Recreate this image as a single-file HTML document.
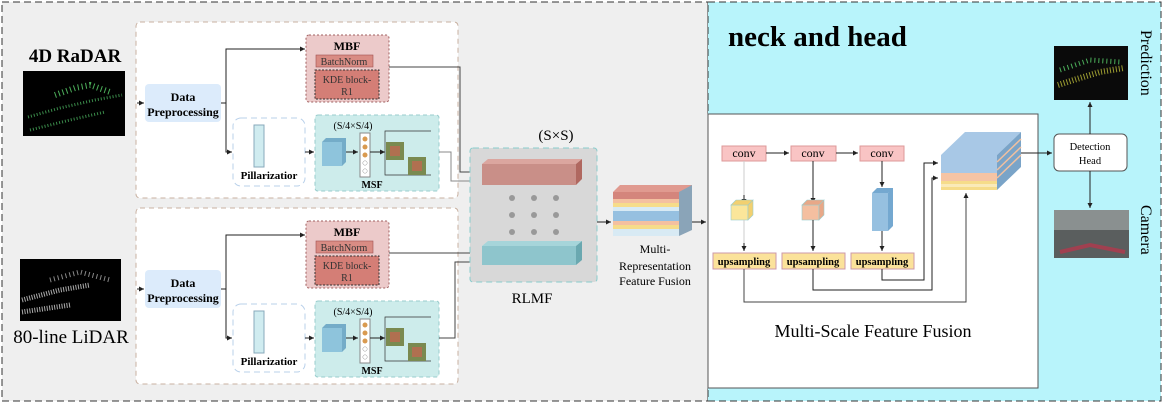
<!DOCTYPE html>
<html><head><meta charset="utf-8"><style>
body{margin:0;background:#fff}
svg{display:block;font-family:"Liberation Serif",serif}
</style></head><body>
<svg width="1164" height="404" viewBox="0 0 1164 404" xmlns="http://www.w3.org/2000/svg">
<defs>
<marker id="a" markerWidth="6" markerHeight="6" refX="5" refY="3" orient="auto"><path d="M0,0.5 L5,3 L0,5.5z" fill="#222"/></marker>
<g id="branch">
  <rect x="136" y="0" width="322" height="176" rx="4" fill="#fff" stroke="#c8b0a0" stroke-dasharray="5,4"/>
  <rect x="145" y="62" width="76" height="38" rx="4" fill="#dcebfb"/>
  <text x="183" y="79" font-size="12" font-weight="bold" text-anchor="middle">Data</text>
  <text x="183" y="94" font-size="12" font-weight="bold" text-anchor="middle">Preprocessing</text>
  <path d="M137,81 L144,81" stroke="#222" marker-end="url(#a)"/>
  <rect x="306" y="13" width="83" height="67" rx="3" fill="#eccaca" stroke="#a06060" stroke-dasharray="2,2"/>
  <text x="347" y="28" font-size="12" font-weight="bold" text-anchor="middle">MBF</text>
  <rect x="316" y="33" width="57" height="12" fill="#d98c84" stroke="#a05050" stroke-width="0.6"/>
  <text x="344" y="43" font-size="10" text-anchor="middle" fill="#333">BatchNorm</text>
  <rect x="315" y="48" width="64" height="29" fill="#d47e76" stroke="#333" stroke-dasharray="2,1.5"/>
  <text x="347" y="61" font-size="10" text-anchor="middle" fill="#333">KDE block-</text>
  <text x="347" y="73" font-size="10" text-anchor="middle" fill="#333">R1</text>
  <path d="M221,81 L226,81 L226,27 L305,27" fill="none" stroke="#222" marker-end="url(#a)"/>
  <path d="M226,81 L226,130 L232,130" fill="none" stroke="#222" marker-end="url(#a)"/>
  <rect x="233" y="96" width="72" height="68" rx="8" fill="#fff" stroke="#b8d0ea" stroke-dasharray="6,4"/>
  <rect x="254" y="103" width="10" height="42" fill="#d0ecf0" stroke="#8ab"/>
  <text x="269" y="157" font-size="11" font-weight="bold" text-anchor="middle">Pillarizatior</text>
  <path d="M305,130 L314,130" stroke="#222" marker-end="url(#a)"/>
  <rect x="315" y="93" width="124" height="76" rx="3" fill="#cdeceb" stroke="#9cc" stroke-dasharray="4,3"/>
  <text x="353" y="107" font-size="10" text-anchor="middle">(S/4×S/4)</text>
  <rect x="322" y="120" width="20" height="24" fill="#8ec4dc"/>
  <path d="M322,120 L326,116 L346,116 L342,120z M342,120 L346,116 L346,140 L342,144z" fill="#74acc8"/>
  <path d="M346,130 L358,130" stroke="#222" marker-end="url(#a)"/>
  <rect x="360" y="111" width="10" height="44" fill="#fff" stroke="#888"/>
  <circle cx="365" cy="117" r="2.5" fill="#d99a50"/><circle cx="365" cy="125" r="2.5" fill="#d99a50"/><circle cx="365" cy="133" r="2.5" fill="#d99a50"/>
  <circle cx="365" cy="141" r="2.2" fill="#fff" stroke="#999" stroke-width="0.5"/><circle cx="365" cy="149" r="2.2" fill="#fff" stroke="#999" stroke-width="0.5"/>
  <path d="M370,130 L385,130" stroke="#222" marker-end="url(#a)"/>
  <path d="M431,109 L385,109 L385,153 L431,153" fill="none" stroke="#333" stroke-width="0.7"/>
  <rect x="386" y="120" width="18" height="18" fill="#7a8a50"/><rect x="390" y="124" width="10" height="10" fill="#b07050"/>
  <rect x="408" y="135" width="18" height="18" fill="#7a8a50"/><rect x="412" y="139" width="10" height="10" fill="#b07050"/>
  <text x="372" y="166" font-size="10" font-weight="bold" text-anchor="middle">MSF</text>
</g>
</defs>
<rect x="0" y="0" width="1164" height="404" fill="#fff"/>
<rect x="2" y="2" width="706" height="399" fill="#efefef" stroke="#333" stroke-dasharray="7,4"/>
<rect x="708" y="2" width="453" height="399" fill="#b8f4fb" stroke="#333" stroke-dasharray="7,4"/>
<text x="728" y="46" font-size="29" font-weight="bold">neck and head</text>

<text x="75" y="62" font-size="19" font-weight="bold" text-anchor="middle">4D RaDAR</text>
<rect x="23" y="71" width="102" height="65" fill="#000"/>
<path d="M28,117 L60,108 L95,100 L122,95 M30,130 L70,120 L105,112" stroke="#3a8a4a" stroke-width="3" stroke-dasharray="1,2" fill="none"/>
<path d="M55,95 L75,88 L90,85 L110,92" stroke="#4caf5a" stroke-width="6" stroke-dasharray="1,3" fill="none"/>
<rect x="20" y="259" width="101" height="62" fill="#000"/>
<path d="M22,300 L60,290 L90,285 M22,312 L70,305" stroke="#aaa" stroke-width="5" stroke-dasharray="1,1.5" fill="none"/>
<path d="M50,280 L80,272 L110,280" stroke="#888" stroke-width="5" stroke-dasharray="1,3" fill="none"/>
<text x="71" y="343" font-size="19" text-anchor="middle">80-line LiDAR</text>

<use href="#branch" y="22"/>
<use href="#branch" y="208"/>

<path d="M389,67 L460,67 L460,172 L480,172" fill="none" stroke="#444" marker-end="url(#a)"/>
<path d="M439,152 L451,152 L451,181 L480,181" fill="none" stroke="#888" marker-end="url(#a)"/>
<path d="M389,253 L455,253 L480,253" fill="none" stroke="#444" marker-end="url(#a)"/>
<path d="M439,338 L455,338 L455,262 L480,262" fill="none" stroke="#444" marker-end="url(#a)"/>

<rect x="470" y="148" width="127" height="134" rx="3" fill="#d8d8d8" stroke="#8cc" stroke-dasharray="6,4"/>
<text x="556" y="140" font-size="15" text-anchor="middle">(S×S)</text>
<rect x="482" y="164" width="94" height="21" fill="#c98f88"/>
<path d="M482,164 L488,159 L582,159 L576,164z" fill="#dba69f"/><path d="M576,164 L582,159 L582,179 L576,185z" fill="#b06860"/>
<rect x="482" y="246" width="94" height="19" fill="#8ec5cc"/>
<path d="M482,246 L488,241 L582,241 L576,246z" fill="#a6d5da"/><path d="M576,246 L582,241 L582,260 L576,265z" fill="#6aa8b0"/>
<g fill="#999"><circle cx="512" cy="198" r="3"/><circle cx="534" cy="198" r="3"/><circle cx="556" cy="198" r="3"/><circle cx="512" cy="215" r="3"/><circle cx="534" cy="215" r="3"/><circle cx="556" cy="215" r="3"/><circle cx="512" cy="232" r="3"/><circle cx="534" cy="232" r="3"/><circle cx="556" cy="232" r="3"/></g>
<text x="532" y="303" font-size="15" text-anchor="middle">RLMF</text>
<path d="M597,222 L611,222" stroke="#222" marker-end="url(#a)"/>

<g>
<path d="M613,192 L620,185 L692,185 L685,192z" fill="#e09a90"/>
<rect x="613" y="192" width="66" height="7" fill="#d4857c"/><rect x="613" y="199" width="66" height="4" fill="#f4c0a0"/>
<rect x="613" y="203" width="66" height="4" fill="#f6dc8a"/><rect x="613" y="207" width="66" height="4" fill="#d8eaf4"/>
<rect x="613" y="211" width="66" height="10" fill="#96c0e0"/><rect x="613" y="221" width="66" height="4" fill="#f4c0a0"/>
<rect x="613" y="225" width="66" height="4" fill="#f6dc8a"/><rect x="613" y="229" width="66" height="7" fill="#d8eaf4"/>
<path d="M679,192 L692,185 L692,230 L679,236z" fill="#8aa4b8"/>
</g>
<text x="655" y="253" font-size="12" text-anchor="middle">Multi-</text>
<text x="655" y="270" font-size="12" text-anchor="middle">Representation</text>
<text x="655" y="285" font-size="12" text-anchor="middle">Feature Fusion</text>
<path d="M692,222 L706,222" stroke="#222" marker-end="url(#a)"/>

<rect x="708" y="114" width="330" height="274" fill="#fff" stroke="#555"/>
<g font-size="12" text-anchor="middle">
<rect x="722" y="146" width="44" height="15" fill="#f9c4c4" stroke="#d99"/><text x="744" y="157">conv</text>
<rect x="791" y="146" width="45" height="15" fill="#f9c4c4" stroke="#d99"/><text x="813" y="157">conv</text>
<rect x="860" y="146" width="44" height="15" fill="#f9c4c4" stroke="#d99"/><text x="882" y="157">conv</text>
</g>
<path d="M766,153 L789,153" stroke="#222" marker-end="url(#a)"/>
<path d="M836,153 L858,153" stroke="#222" marker-end="url(#a)"/>
<path d="M744,161 L744,205" stroke="#ccc"/><path d="M744,195 L744,204" stroke="#222" marker-end="url(#a)"/>
<path d="M813,161 L813,203" stroke="#222" marker-end="url(#a)"/>
<path d="M882,161 L882,187" stroke="#222" marker-end="url(#a)"/>
<rect x="731" y="205" width="17" height="15" fill="#fbe69a" stroke="#9cc" stroke-width="0.6"/><path d="M731,205 L736,200 L753,200 L748,205z M748,205 L753,200 L753,215 L748,220z" fill="#f2d070" stroke="#9cc" stroke-width="0.6"/>
<rect x="802" y="205" width="17" height="15" fill="#f4bfa0" stroke="#9cc" stroke-width="0.6"/><path d="M802,205 L807,200 L824,200 L819,205z M819,205 L824,200 L824,215 L819,220z" fill="#e8a888" stroke="#9cc" stroke-width="0.6"/>
<rect x="872" y="193" width="16" height="38" fill="#96c0e0"/><path d="M872,193 L877,188 L893,188 L888,193z M888,193 L893,188 L893,226 L888,231z" fill="#74a8d0"/>
<path d="M744,220 L744,251" stroke="#ccc"/><path d="M744,243 L744,251" stroke="#222" marker-end="url(#a)"/>
<path d="M813,220 L813,251" stroke="#222" marker-end="url(#a)"/>
<path d="M882,231 L882,251" stroke="#222" marker-end="url(#a)"/>
<g font-size="10.5" font-weight="bold" text-anchor="middle">
<rect x="713" y="253" width="63" height="16" fill="#fbe29a" stroke="#c9a"/><text x="744" y="265">upsampling</text>
<rect x="782" y="253" width="63" height="16" fill="#fbe29a" stroke="#c9a"/><text x="813" y="265">upsampling</text>
<rect x="851" y="253" width="63" height="16" fill="#fbe29a" stroke="#c9a"/><text x="882" y="265">upsampling</text>
</g>
<path d="M882,269 L882,280 L924,280 L924,163 L938,163" fill="none" stroke="#222" marker-end="url(#a)"/>
<path d="M813,269 L813,290 L932,290 L932,178 L938,178" fill="none" stroke="#222" marker-end="url(#a)"/>
<path d="M744,269 L744,302 L966,302 L966,193" fill="none" stroke="#444" marker-end="url(#a)"/>
<path d="M941,155 L965,132 L1021,132 L997,155z" fill="#a8c8e6"/>
<rect x="941" y="155" width="56" height="18" fill="#a8c8e6"/>
<rect x="941" y="173" width="56" height="8" fill="#f6c4a4"/>
<rect x="941" y="181" width="56" height="3" fill="#f6dc8a"/><rect x="941" y="184" width="56" height="3" fill="#f6dc8a" opacity="0.6"/><rect x="941" y="187" width="56" height="3" fill="#f6dc8a"/>
<path d="M997,155 L1021,132 L1021,167 L997,190z" fill="#7aa4c8"/>
<path d="M997,178 L1021,155 M997,170 L1021,147 M997,162 L1021,139" stroke="#f0c0a0" stroke-width="1.5"/>
<path d="M1021,153 L1052,153" stroke="#222" marker-end="url(#a)"/>
<rect x="1054" y="134" width="73" height="37" rx="5" fill="#fff" stroke="#555"/>
<text x="1090" y="150" font-size="10.5" text-anchor="middle">Detection</text>
<text x="1090" y="164" font-size="10.5" text-anchor="middle">Head</text>
<path d="M1090,134 L1090,102" stroke="#222" marker-end="url(#a)"/>
<path d="M1090,171 L1090,208" stroke="#222" marker-end="url(#a)"/>
<rect x="1054" y="46" width="74" height="54" fill="#0a0a0a"/>
<path d="M1058,85 L1080,78 L1100,72 L1124,68" stroke="#9a9a30" stroke-width="6" stroke-dasharray="1,2" fill="none"/>
<path d="M1060,70 L1090,60 L1120,62" stroke="#4caf5a" stroke-width="5" stroke-dasharray="1,3" fill="none"/>
<rect x="1054" y="210" width="75" height="48" fill="#5a5e5e"/>
<rect x="1054" y="210" width="75" height="20" fill="#8a9090"/>
<path d="M1060,252 L1090,245 L1125,252" stroke="#a04050" stroke-width="4" fill="none"/>
<text transform="translate(1141,30) rotate(90)" font-size="16">Prediction</text>
<text transform="translate(1141,205) rotate(90)" font-size="16">Camera</text>
<text x="873" y="337" font-size="18" text-anchor="middle">Multi-Scale Feature Fusion</text>
</svg>
</body></html>
